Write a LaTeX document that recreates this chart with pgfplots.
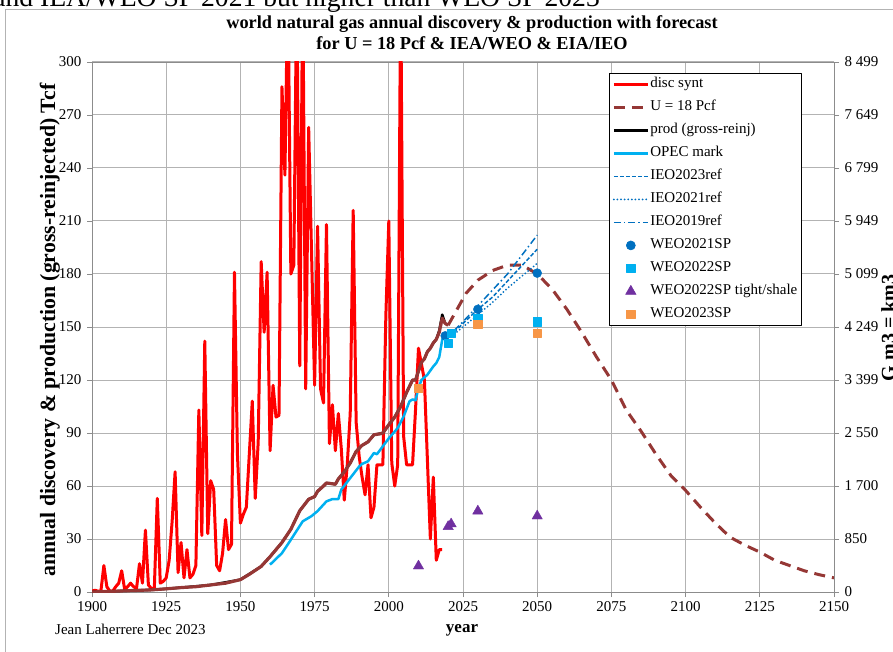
\documentclass[border=0pt]{standalone}
\usepackage{pgfplots}
\pgfplotsset{compat=1.18}
\usepackage{fontspec}
\setmainfont{Liberation Serif}
\definecolor{cRed}{HTML}{FF0000}
\definecolor{cBrown}{HTML}{953735}
\definecolor{cLBlue}{HTML}{00B0F0}
\definecolor{cBlue}{HTML}{0070C0}
\definecolor{cPurple}{HTML}{7030A0}
\definecolor{cOrange}{HTML}{F79646}
\definecolor{cGrid}{HTML}{B3B3B3}
\definecolor{cAxis}{HTML}{8C8C8C}
\pgfplotsset{
  lineleg/.style={legend image code/.code={\draw[##1] (0pt,0pt) -- (34pt,0pt);}},
  markleg/.style={legend image code/.code={\draw[##1] plot coordinates {(17pt,0pt)};}},
}
\begin{document}
\begin{tikzpicture}
% outer chart frame
\draw[cGrid, line width=1pt] (5pt,-30pt) -- (5pt,641pt) -- (940pt,641pt);
% clipped caption above the chart
\node[anchor=base east, inner sep=0pt, font=\fontsize{27.6}{30}\selectfont] at (600pt,644pt) {and IEA/WEO SP 2021 but higher than WEO SP 2023};
% title
\node[anchor=base, inner sep=0pt, font=\fontsize{18.3}{20}\selectfont\bfseries] at (472pt,622pt) {world natural gas annual discovery \& production with forecast};
\node[anchor=base, inner sep=0pt, font=\fontsize{18.3}{20}\selectfont\bfseries] at (472pt,601pt) {for U = 18 Pcf \& IEA/WEO \& EIA/IEO};
% axis titles and note
\node[rotate=90, anchor=base, inner sep=0pt, font=\fontsize{21.8}{24}\selectfont\bfseries] at (55pt,321pt) {annual discovery \& production (gross-reinjected) Tcf};
\node[rotate=90, anchor=base, inner sep=0pt, font=\fontsize{20}{22}\selectfont\bfseries] at (895pt,323pt) {G m3 = km3};
\node[anchor=base, inner sep=0pt, font=\fontsize{17}{20}\selectfont\bfseries] at (462pt,19pt) {year};
\node[anchor=base west, inner sep=0pt, font=\fontsize{15}{16}\selectfont] at (55pt,17pt) {Jean Laherrere Dec 2023};

\begin{axis}[
  at={(92pt,59pt)}, anchor=south west,
  scale only axis, width=742pt, height=530pt,
  xmin=1900, xmax=2150, ymin=0, ymax=300,
  xtick={1900,1925,1950,1975,2000,2025,2050,2075,2100,2125,2150},
  xticklabels={1900,1925,1950,1975,2000,2025,2050,2075,2100,2125,2150},
  ytick={0,30,60,90,120,150,180,210,240,270,300},
  yticklabels={0,30,60,90,120,150,180,210,240,270,300},
  xtick pos=bottom, ytick pos=left,
  tick align=outside, major tick length=5pt,
  tick style={cAxis, line width=0.8pt},
  axis line style={cAxis, line width=0.8pt},
  grid=major, major grid style={cGrid, line width=1pt},
  tick label style={font=\fontsize{15}{16}\selectfont},
  yticklabel style={xshift=-2pt},
  xticklabel style={yshift=-1pt},
  lineleg,
  legend style={at={(0.6968,0.979)}, anchor=north west, draw=black, line width=0.6pt,
    fill=white, font=\fontsize{15}{16}\selectfont, row sep=7pt,
    inner xsep=3pt, inner ysep=3pt,
    nodes={inner sep=1pt, text height=10.5pt, text depth=3.5pt}},
  legend cell align=left,
  line join=round,
]
% disc synt
\addplot[cRed, line width=3pt] coordinates {
(1900,0.5)(1901,1)(1902,0.5)(1903,0.5)(1904,15)(1905,3)(1906,0.5)(1907,0.5)(1908,3)(1909,5)
(1910,12)(1911,1.5)(1912,3)(1913,5)(1914,3)(1915,2)(1916,16)(1917,5)(1918,35)(1919,4)
(1920,2)(1921,2)(1922,53)(1923,5)(1924,6)(1925,8)(1926,18)(1927,40)(1928,68)(1929,11)
(1930,28)(1931,8)(1932,24)(1933,8)(1934,10)(1935,15)(1936,103)(1937,32)(1938,142)(1939,33)
(1940,63)(1941,58)(1942,15)(1943,12)(1944,22)(1945,41)(1946,24)(1947,27)(1948,181)(1949,78)
(1950,39)(1951,44)(1952,48)(1953,78)(1954,108)(1955,53)(1956,85)(1957,187)(1958,147)(1959,181)
(1960,80)(1961,117)(1962,99)(1963,100)(1964,286)(1965,236)(1966,350)(1967,180)(1968,185)(1969,350)
(1970,128)(1971,350)(1972,115)(1973,263)(1974,190)(1975,117)(1976,207)(1977,115)(1978,107)(1979,208)
(1980,84)(1981,106)(1982,80)(1983,101)(1984,81)(1985,52)(1986,72)(1987,101)(1988,216)(1989,96)
(1990,77)(1991,65)(1992,55)(1993,72)(1994,42)(1995,48)(1996,72)(1997,72)(1998,72)(1999,156)
(2000,210)(2001,73)(2002,60)(2003,72)(2004,350)(2005,88)(2006,72)(2007,72)(2008,72)(2009,103)
(2010,138)(2011,129)(2012,120)(2013,75)(2014,30)(2015,65)(2016,18)(2017,24)(2018,24)
};
\addlegendentry{disc synt}
% U = 18 Pcf forecast (dashed)
\addplot[cBrown, line width=3pt, dash pattern=on 11pt off 7pt] coordinates {
(2020,151)(2023,160)(2026,169)(2030,176.5)(2035,182)(2040,185)(2045,185)(2050,180)
(2055,171.5)(2060,160)(2065,147)(2070,133)(2075,120)(2080,103)(2085,91)(2090,78)(2095,66)
(2100,57.5)(2105,48)(2110,39)(2115,31)(2120,26.5)(2125,22.6)(2130,18)(2135,15)(2140,12)
(2145,9.8)(2150,8)
};
\addlegendentry{U = 18 Pcf}
% prod (gross-reinj)
\addplot[black, line width=2.5pt] coordinates {
(1900,0)(1910,0.6)(1920,1.2)(1925,1.8)(1930,2.5)(1940,4)(1950,7)(1957,14.5)(1960,20)(1964,28)
(1967,35.5)(1970,46)(1973,52.5)(1975,54)(1976,57)(1978,60)(1979,61.7)(1982,61)(1983,64)(1985,68)
(1987,73)(1989,79.6)(1991,83)(1993,85)(1995,89)(1998,90)(2000,94.7)(2002,99)(2004,105)(2006,113)
(2008,120)(2009,120)(2010,125)(2011,130)(2012,132)(2013,136)(2014,138)(2015,141)(2016,143)(2017,148)
(2018,157)(2019,152)
};
\addlegendentry{prod (gross-reinj)}
% brown solid (history part of the model)
\addplot[cBrown, line width=3.2pt, forget plot] coordinates {
(1900,0)(1905,0.3)(1910,0.6)(1915,0.9)(1920,1.2)(1925,1.8)(1930,2.5)(1935,3)(1940,4)(1945,5)
(1950,7)(1953,10)(1957,14.5)(1960,20)(1964,28)(1967,35.5)(1970,46)(1973,52.5)(1975,54)(1976,57)
(1978,60)(1979,61.7)(1980,61.5)(1982,61)(1983,64)(1985,68)(1987,73)(1989,79.6)(1991,83)(1993,85)
(1995,89)(1997,89.5)(1998,90)(2000,94.7)(2002,99)(2004,105)(2006,113)(2008,120)(2009,120)(2010,125)
(2011,130)(2012,132)(2013,136)(2014,138)(2015,141)(2016,143)(2017,147)(2018,155)(2019,152)(2020,151)
};
% OPEC mark
\addplot[cLBlue, line width=2.5pt] coordinates {
(1960,15.5)(1964,22)(1967,29.6)(1971,40)(1974,43)(1976,45.8)(1979,51.3)(1981,52.6)(1983,52.6)(1984,58)
(1987,64.5)(1990,71)(1991,72.5)(1993,74)(1995,78.7)(1996,78)(1998,82.5)(2000,87)(2003,92.8)(2005,99.4)
(2007,108)(2008,109)(2009,108.5)(2010,115.5)(2011,120)(2013,123)(2015,127.7)(2016,129.6)(2017,133)(2018,142.8)(2019,144.7)
};
\addlegendentry{OPEC mark}
% IEO lines
\addplot[cBlue, line width=1.5pt, dash pattern=on 4pt off 2pt] coordinates {
(2022,147)(2025,152)(2030,160)(2035,167)(2040,176)(2045,185)(2050,194)
};
\addlegendentry{IEO2023ref}
\addplot[cBlue, line width=2pt, line cap=round, dash pattern=on 0pt off 3.6pt] coordinates {
(2022,146)(2025,150)(2030,157)(2035,164)(2040,172)(2045,179)(2050,186)
};
\addlegendentry{IEO2021ref}
\addplot[cBlue, line width=1.5pt, dash pattern=on 7pt off 3pt on 1.5pt off 3pt] coordinates {
(2022,148)(2025,153)(2030,162)(2035,171)(2040,180)(2045,191)(2050,202)
};
\addlegendentry{IEO2019ref}
% WEO points
\addplot[only marks, mark=*, mark size=4.5pt, color=cBlue, markleg] coordinates {
(2019,145)(2030,160)(2050,180.5)
};
\addlegendentry{WEO2021SP}
\addplot[only marks, mark=square*, mark size=4.2pt, color=cLBlue, markleg] coordinates {
(2020,141)(2021,146.4)(2030,155)(2050,153)
};
\addlegendentry{WEO2022SP}
\addplot[only marks, mark=triangle*, mark size=6pt, color=cPurple, markleg] coordinates {
(2010,14.7)(2020,37)(2021,38.5)(2030,45.8)(2050,43)
};
\addlegendentry{WEO2022SP tight/shale}
\addplot[only marks, mark=square*, mark size=4.2pt, color=cOrange, markleg] coordinates {
(2010,115.3)(2030,151.7)(2050,146.5)
};
\addlegendentry{WEO2023SP}
\end{axis}

\begin{axis}[
  at={(92pt,59pt)}, anchor=south west,
  scale only axis, width=742pt, height=530pt,
  xmin=1900, xmax=2150, ymin=0, ymax=300,
  axis x line=none, axis y line*=right,
  ytick={0,30,60,90,120,150,180,210,240,270,300},
  yticklabels={0,850,1 700,2 550,3 399,4 249,5 099,5 949,6 799,7 649,8 499},
  tick align=outside, major tick length=5pt,
  tick style={cAxis, line width=0.8pt},
  axis line style={cAxis, line width=0.8pt},
  tick label style={font=\fontsize{15}{16}\selectfont},
  yticklabel style={xshift=2pt},
]
\end{axis}
\pgfresetboundingbox
\path[use as bounding box] (0pt,0pt) rectangle (893pt,651pt);
\end{tikzpicture}
\end{document}
